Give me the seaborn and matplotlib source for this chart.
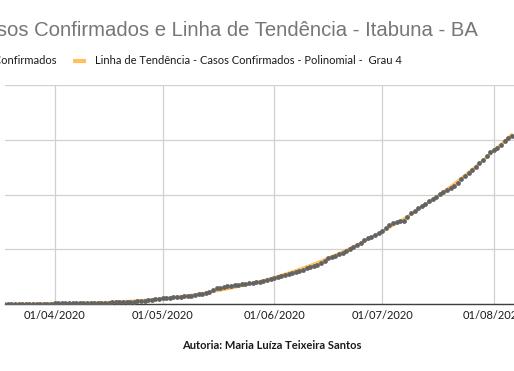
import numpy as np
import pandas as pd
import matplotlib
matplotlib.use("Agg")
import matplotlib.pyplot as plt
from matplotlib.lines import Line2D
import seaborn as sns

# ---- data (cumulative confirmed cases, daily from 18/03/2020) ----
start_date = "2020-03-18"
cases_mar = [1, 1, 2, 2, 3, 3, 4, 4, 5, 6, 7, 7, 8, 9]
cases_apr = [10, 11, 12, 12, 13, 14, 15, 16, 17, 18, 19, 20, 21, 22, 24,
             26, 28, 30, 32, 34, 37, 40, 44, 48, 53, 60, 70, 78, 86, 95]
cases_may = [102, 108, 115, 120, 125, 132, 140, 148, 155, 165, 175, 185, 200,
             225, 260, 285, 300, 312, 325, 337, 345, 355, 362, 370, 378, 385,
             395, 410, 425, 440, 460]
cases_jun = [480, 495, 510, 530, 550, 570, 590, 610, 630, 650, 670, 690, 712,
             740, 780, 834, 855, 880, 905, 926, 960, 1005, 1040, 1078, 1120,
             1169, 1200, 1230, 1260, 1300]
cases_jul = [1333, 1390, 1443, 1480, 1503, 1510, 1516, 1590, 1657, 1700, 1748,
             1790, 1830, 1881, 1920, 1960, 2010, 2051, 2090, 2120, 2155, 2210,
             2277, 2330, 2390, 2447, 2510, 2570, 2630, 2700, 2771]
cases_aug = [2810, 2844, 2900, 2983, 3030, 3074]

tick_dates = ["2020-04-01", "2020-05-01", "2020-06-01", "2020-07-01", "2020-08-01"]
tick_labels = ["01/04/2020", "01/05/2020", "01/06/2020", "01/07/2020", "01/08/2020"]
y_ticks = [0, 1000, 2000, 3000, 4000]

title = "Casos Confirmados e Linha de Tendência - Itabuna - BA"
series_label = "Casos Confirmados"
trend_label = "Linha de Tendência - Casos Confirmados - Polinomial -  Grau 4"
caption = "Autoria: Maria Luíza Teixeira Santos"

cases = cases_mar + cases_apr + cases_may + cases_jun + cases_jul + cases_aug
dates = pd.date_range(start_date, periods=len(cases), freq="D")
df = pd.DataFrame({"data": dates, "casos": cases})

# polynomial (degree 4) trendline fitted to the series, as Excel does
t = (df["data"] - df["data"].iloc[0]).dt.days.to_numpy(dtype=float)
coef = np.polyfit(t, df["casos"].to_numpy(dtype=float), 4)
df["tendencia"] = np.polyval(coef, t)

# ---- style ----
sns.set_theme(style="white")
plt.rcParams["font.family"] = ["Lato", "DejaVu Sans"]

W, H = 514, 371
fig = plt.figure(figsize=(W / 100, H / 100), dpi=100)

grey_pt = "#636363"
orange = "#FFC15E"

# axes placed so that the chart is cropped at the left and right like the reference
px_per_day = 3.6
apr1 = pd.Timestamp("2020-04-01")
x0_px, apr1_px = 5.0, 54.5
left_date = apr1 - pd.Timedelta(days=(apr1_px - x0_px) / px_per_day)
right_px = 530.0
right_date = apr1 + pd.Timedelta(days=(right_px - apr1_px) / px_per_day)
ax_bottom_px, ax_top_px = 304.0, 85.0
ax = fig.add_axes([x0_px / W, (H - ax_bottom_px) / H,
                   (right_px - x0_px) / W, (ax_bottom_px - ax_top_px) / H])

sns.lineplot(data=df, x="data", y="tendencia", ax=ax, color=orange,
             linewidth=2.0, zorder=2, legend=False)
sns.scatterplot(data=df, x="data", y="casos", ax=ax, color=grey_pt, s=12,
                linewidth=0, zorder=3, legend=False)

ax.set_xlim(left_date, right_date)
ax.set_ylim(y_ticks[0], y_ticks[-1])
ax.set_yticks(y_ticks)
ax.set_xticks(pd.to_datetime(tick_dates))
ax.set_xticklabels(tick_labels)
ax.grid(True, color="#d0d0d0", linewidth=0.9)
ax.set_axisbelow(True)
ax.tick_params(axis="y", left=False, labelleft=False)
ax.tick_params(axis="x", bottom=False, labelsize=8.0, labelcolor="#1a1a1a", pad=-1.5)
for s in ["left", "right", "top"]:
    ax.spines[s].set_visible(False)
ax.spines["bottom"].set_color("#404040")
ax.spines["bottom"].set_linewidth(1.0)
ax.set_xlabel("")
ax.set_ylabel("")

# ---- title (cropped at left) ----
fig.text(478 / W, 1 - 30.5 / H, title, ha="right", va="center",
         fontsize=14.6, color="#767676", family=["Liberation Sans", "DejaVu Sans"])

# ---- legend (cropped at left) ----
ly = 1 - 60.5 / H
fig.text(57 / W, ly, series_label, ha="right", va="center", fontsize=8.0,
         color="#1a1a1a")
fig.add_artist(Line2D([-40 / W, -20 / W], [ly, ly], color=grey_pt,
                      marker="o", markersize=3, linestyle="none",
                      transform=fig.transFigure))
fig.add_artist(Line2D([73 / W, 86 / W], [ly, ly], color=orange, linewidth=3,
                      solid_capstyle="butt", transform=fig.transFigure))
fig.text(95 / W, ly, trend_label, ha="left", va="center", fontsize=8.0,
         color="#1a1a1a")

# ---- caption ----
fig.text(272 / W, 1 - 345.7 / H, caption, ha="center", va="center",
         fontsize=8.0, fontweight="bold", color="#1a1a1a")

fig.savefig("out.png", dpi=100, facecolor="white")
